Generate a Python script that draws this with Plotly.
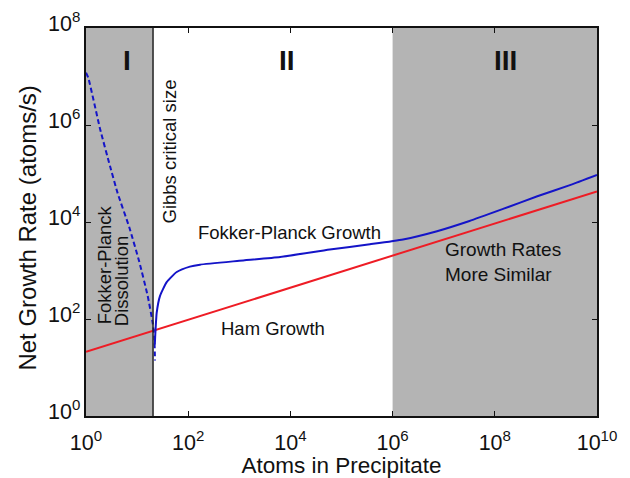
import math
import plotly.graph_objects as go

# ---- data ----
dissolution_n = [1, 1.11, 1.88, 2.95, 4.17, 7.03, 11.0, 16.1, 20.2, 21.7, 22.4]
dissolution_r = [1.2e7, 9.4e6, 8.4e5, 1.42e5, 3.9e4, 7800, 1530, 302, 83, 44, 14]

growth_n = [22.2, 22.6, 24.2, 28.1, 37.9, 59.6, 108, 170, 1000, 6300, 5.9e4, 3.6e5,
            1.6e6, 7.4e6, 3.2e7, 1.45e8, 6.8e8, 2.95e9, 1e10]
growth_r = [30, 44, 135, 300, 575, 930, 1200, 1320, 1585, 1900, 2700, 3470,
            4370, 6460, 10500, 18600, 33900, 57500, 93300]

ham_n = [1, 1e2, 1e4, 1e6, 1e8, 1e10]
ham_r = [21, 96, 440, 2000, 9300, 42700]

gibbs_critical_n = 20.5
region1 = [1, gibbs_critical_n]
region3 = [1e6, 1e10]

x_tickvals = [1, 1e2, 1e4, 1e6, 1e8, 1e10]
x_ticktext = ["10<sup>0</sup>", "10<sup>2</sup>", "10<sup>4</sup>", "10<sup>6</sup>", "10<sup>8</sup>", "10<sup>10</sup>"]
y_tickvals = [1, 1e2, 1e4, 1e6, 1e8]
y_ticktext = ["10<sup>0</sup>", "10<sup>2</sup>", "10<sup>4</sup>", "10<sup>6</sup>", "10<sup>8</sup>"]

BLUE = "#1414c8"
RED = "#ee1c25"
GRAY = "#b4b4b4"
INK = "#111111"
FONT = "Liberation Sans, Arial, sans-serif"

fig = go.Figure()

fig.add_trace(go.Scatter(x=ham_n, y=ham_r, mode="lines",
                         line=dict(color=RED, width=2), showlegend=False))
fig.add_trace(go.Scatter(x=dissolution_n, y=dissolution_r, mode="lines",
                         line=dict(color=BLUE, width=2, dash="5px,3px", shape="spline", smoothing=0.4),
                         showlegend=False))
fig.add_trace(go.Scatter(x=growth_n, y=growth_r, mode="lines",
                         line=dict(color=BLUE, width=2, shape="spline", smoothing=0.5),
                         showlegend=False))

for x0, x1 in (region1, region3):
    fig.add_shape(type="rect", xref="x", yref="paper", x0=x0, x1=x1, y0=0, y1=1,
                  fillcolor=GRAY, line=dict(width=0), layer="below")
fig.add_shape(type="line", xref="x", yref="paper", x0=gibbs_critical_n, x1=gibbs_critical_n,
              y0=0, y1=1, line=dict(color="#222222", width=1.5))

def ann(text, x, y, size=18.5, angle=0, bold=False, xanchor="center", align="center"):
    fig.add_annotation(text=f"<b>{text}</b>" if bold else text, x=x, y=y, xref="x", yref="y",
                       showarrow=False, textangle=angle, xanchor=xanchor, yanchor="middle",
                       align=align, font=dict(size=size, color=INK, family=FONT))

ann("I", 0.80, 7.33, size=28, bold=True)
ann("II", 3.93, 7.33, size=28, bold=True)
ann("III", 8.2, 7.33, size=28, bold=True)
ann("Fokker-Planck", 0.362, 3.116, angle=-90)
ann("Dissolution", 0.695, 2.79, angle=-90)
ann("Gibbs critical size", 1.64, 5.45, angle=-90)
ann("Fokker-Planck Growth", 3.99, 3.79)
ann("Ham Growth", 3.66, 1.81)
ann("Growth Rates<br>More Similar", 6.99, 3.185, size=19, xanchor="left", align="left")

# y-axis title
fig.add_annotation(text="Net Growth Rate (atoms/s)", xref="paper", yref="paper",
                   x=-0.1135, y=0.483, xanchor="center", yanchor="middle",
                   showarrow=False, textangle=-90,
                   font=dict(size=24, color=INK, family=FONT))

# y tick labels (sit slightly above their ticks, as in the reference)
for val, txt in zip(y_tickvals, y_ticktext):
    fig.add_annotation(text=txt, xref="paper", yref="y", x=0, y=math.log10(val),
                       xanchor="right", yanchor="middle", xshift=-4, yshift=6,
                       showarrow=False, font=dict(size=21.5, color=INK, family=FONT))

axis_common = dict(type="log", showgrid=False, zeroline=False, showline=True, automargin=False,
                   linecolor=INK, linewidth=1.5, mirror="ticks",
                   ticks="inside", ticklen=5, tickcolor=INK, tickwidth=1,
                   tickfont=dict(size=21.5, color=INK, family=FONT))

fig.update_xaxes(**axis_common, range=[0, 10], tickvals=x_tickvals, ticktext=x_ticktext,
                 ticklabelstandoff=6,
                 title=dict(text="Atoms in Precipitate", font=dict(size=22.5, color=INK, family=FONT),
                            standoff=4))
fig.update_yaxes(**axis_common, range=[0, 8], tickvals=y_tickvals, showticklabels=False)

# page body has an 8px default margin, so the figure is 8px smaller than the window
fig.update_layout(width=622, height=470, margin=dict(l=78, r=33, t=20, b=62),
                  plot_bgcolor="white", paper_bgcolor="white", showlegend=False)

fig.write_html("out.html")
